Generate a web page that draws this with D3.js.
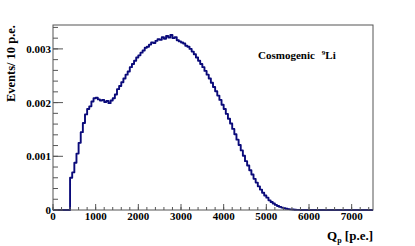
<!DOCTYPE html>
<html>
<head>
<meta charset="utf-8">
<script src="https://cdn.jsdelivr.net/npm/d3@7"></script>
<style>
  body { margin: 0; background: #fff; }
  text { font-family: "Liberation Serif", "Times New Roman", serif; font-weight: bold; }
</style>
</head>
<body>
<div id="chart"></div>
<script>
// bin lower edges (p.e.), 50 p.e. bins
const binStart = 400, binWidth = 50;
// events / 10 p.e. (x 1e-3)
const counts = [
  0.60, 0.70, 0.88, 1.05, 1.25, 1.45, 1.62, 1.78, 1.88, 1.93,
  2.02, 2.08, 2.09, 2.06, 2.04, 2.05, 2.01, 2.03, 1.99, 2.04,
  2.08, 2.15, 2.25, 2.31, 2.38, 2.45, 2.52, 2.58, 2.66, 2.72,
  2.78, 2.84, 2.88, 2.93, 2.97, 3.02, 3.04, 3.08, 3.12, 3.11,
  3.15, 3.18, 3.17, 3.22, 3.19, 3.24, 3.21, 3.26, 3.20, 3.22,
  3.16, 3.14, 3.12, 3.10, 3.06, 3.04, 3.00, 2.95, 2.90, 2.84,
  2.78, 2.72, 2.66, 2.59, 2.52, 2.45, 2.37, 2.29, 2.21, 2.13,
  2.05, 1.96, 1.88, 1.79, 1.70, 1.61, 1.51, 1.41, 1.31, 1.21,
  1.11, 1.01, 0.91, 0.83, 0.74, 0.66, 0.58, 0.51, 0.44, 0.38,
  0.32, 0.27, 0.23, 0.18, 0.15, 0.12, 0.095, 0.075, 0.058, 0.045,
  0.033, 0.024, 0.017, 0.012, 0.008, 0.005, 0.003, 0.002, 0.001
];
const xTicks = [0, 1000, 2000, 3000, 4000, 5000, 6000, 7000];
const yTicks = [0, 0.001, 0.002, 0.003];
const yTickLabels = ["0", "0.001", "0.002", "0.003"];

const W = 415, H = 246;
const frame = {left: 53, right: 373, top: 25, bottom: 210};

const svg = d3.select("#chart").append("svg")
  .attr("width", W).attr("height", H);

const x = d3.scaleLinear().domain([0, 7500]).range([frame.left, frame.right]);
const y = d3.scaleLinear().domain([0, 0.003445]).range([frame.bottom, frame.top]);

// histogram outline
const bins = counts.map((c, i) => ({x0: binStart + i * binWidth, x1: binStart + (i + 1) * binWidth, v: c * 1e-3}));
let pts = [[x(0), y(0)], [x(binStart), y(0)]];
bins.forEach(b => { pts.push([x(b.x0), y(b.v)]); pts.push([x(b.x1), y(b.v)]); });
const last = bins[bins.length - 1].x1;
pts.push([x(last), y(0)], [x(7500), y(0)]);

svg.append("path")
  .attr("d", d3.line()(pts))
  .attr("fill", "none")
  .attr("stroke", "#0a0a7a")
  .attr("stroke-width", 1.9)
  .attr("stroke-linejoin", "round");

// frame
svg.append("rect")
  .attr("x", frame.left).attr("y", frame.top)
  .attr("width", frame.right - frame.left).attr("height", frame.bottom - frame.top)
  .attr("fill", "none").attr("stroke", "#555").attr("stroke-width", 1);

// y ticks (inward)
const yMinor = d3.range(0, 0.00345, 0.0002);
svg.selectAll(".ymin").data(yMinor).enter().append("line")
  .attr("x1", frame.left).attr("x2", frame.left + 5)
  .attr("y1", d => y(d)).attr("y2", d => y(d))
  .attr("stroke", "#555");
svg.selectAll(".ymaj").data(yTicks).enter().append("line")
  .attr("x1", frame.left).attr("x2", frame.left + 10)
  .attr("y1", d => y(d)).attr("y2", d => y(d))
  .attr("stroke", "#555");
svg.selectAll(".ylab").data(yTicks).enter().append("text")
  .attr("x", frame.left - 2).attr("y", d => y(d) + 4)
  .attr("text-anchor", "end").attr("font-size", 11)
  .text((d, i) => yTickLabels[i]);

// x ticks (inward)
const xMinor = d3.range(0, 7501, 200);
svg.selectAll(".xmin").data(xMinor).enter().append("line")
  .attr("x1", d => x(d)).attr("x2", d => x(d))
  .attr("y1", frame.bottom).attr("y2", frame.bottom - 3)
  .attr("stroke", "#555");
svg.selectAll(".xmaj").data(xTicks).enter().append("line")
  .attr("x1", d => x(d)).attr("x2", d => x(d))
  .attr("y1", frame.bottom).attr("y2", frame.bottom - 6)
  .attr("stroke", "#555");
svg.selectAll(".xlab").data(xTicks).enter().append("text")
  .attr("x", d => x(d)).attr("y", frame.bottom + 10)
  .attr("text-anchor", "middle").attr("font-size", 11)
  .text(d => d);

// axis titles
svg.append("text")
  .attr("transform", "translate(15," + frame.top + ") rotate(-90)")
  .attr("text-anchor", "end").attr("font-size", 12.5)
  .text("Events/ 10 p.e.");

const xt = svg.append("text")
  .attr("x", frame.right).attr("y", 240)
  .attr("text-anchor", "end").attr("font-size", 13);
xt.append("tspan").text("Q");
xt.append("tspan").attr("font-size", 8).attr("dy", 3).text("p");
xt.append("tspan").attr("dy", -3).text(" [p.e.]");

const lt = svg.append("text")
  .attr("x", 258).attr("y", 58.5).attr("font-size", 11);
lt.append("tspan").text("Cosmogenic");
lt.append("tspan").attr("font-size", 7).attr("dx", 7).attr("dy", -4).text("9");
lt.append("tspan").attr("dy", 4).text("Li");
</script>
</body>
</html>
